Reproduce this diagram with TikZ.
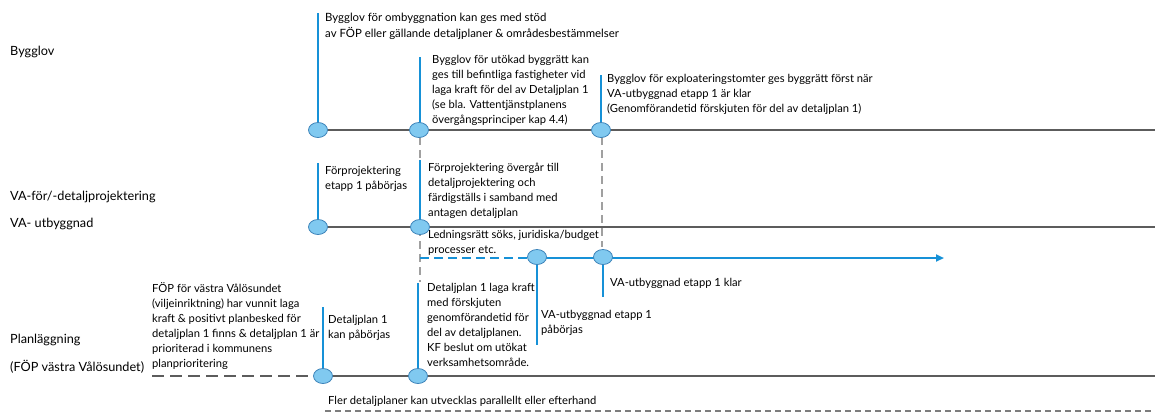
\documentclass[tikz,border=0pt]{standalone}
\usepackage{fontspec}
\setmainfont{Lato}
\usetikzlibrary{arrows.meta}
\definecolor{blueline}{RGB}{22,145,215}
\definecolor{circfill}{RGB}{128,201,240}
\definecolor{circdraw}{RGB}{62,132,186}
\definecolor{tlgray}{RGB}{92,92,92}
\definecolor{dgray}{RGB}{160,160,160}
\tikzset{
  ms/.style={ellipse,draw=circdraw,fill=circfill,line width=0.8pt,minimum width=19pt,minimum height=15pt,inner sep=0pt},
  tl/.style={draw=tlgray,line width=2.6pt},
  vblue/.style={draw=blueline,line width=1.8pt},
  vdash/.style={draw=dgray,line width=1.8pt,dash pattern=on 8pt off 5pt},
  lbl/.style={font=\fontsize{11.2}{15}\selectfont,align=left,inner sep=0pt,anchor=north west,text=black},
  biglbl/.style={lbl,font=\fontsize{11.4}{16}\selectfont},
  rowlbl/.style={font=\fontsize{12.7}{14}\selectfont,inner sep=0pt,anchor=west,text=black}
}
\usetikzlibrary{shapes.geometric}
\begin{document}
\begin{tikzpicture}[x=1pt,y=-1pt]
\useasboundingbox (0,0) rectangle (1155,416);
% row labels
\node[rowlbl] (lB) at (10,52) {Bygglov};
\node[rowlbl] (lVA1) at (10,197) {VA-för/-detaljprojektering};
\node[rowlbl] (lVA2) at (10,224) {VA- utbyggnad};
\node[rowlbl] (lP1) at (10,340) {Planläggning};
\node[rowlbl] (lP2) at (10,367) {(FÖP västra Vålösundet)};
% coordinates
\coordinate (bEnd) at (1155,130);
\coordinate (vEnd) at (1155,227);
\coordinate (pEnd) at (1155,376);
\coordinate (pStart) at (152,376);
\coordinate (fStart) at (325,411);
\coordinate (fEnd) at (1155,411);
\coordinate (aEnd) at (944,258);
\coordinate (t1) at (318,13);
\coordinate (t2) at (420,57);
\coordinate (t3) at (601,75);
\coordinate (t4) at (318,163);
\coordinate (t5) at (420,160);
\coordinate (t6) at (537,345);
\coordinate (t7) at (603,297);
\coordinate (t8) at (323,307);
\coordinate (t9) at (418,283);
\coordinate (d1) at (420,282);
\coordinate (d2) at (602,247);
% dashed grey verticals
\draw[vdash] (420,137) -- (d1);
\draw[vdash] (602,137) -- (d2);
% timelines
\coordinate (b1c) at (318,130);
\draw[tl] (b1c) -- (bEnd);
\draw[tl] (318,227) -- (vEnd);
\draw[tl] (323,376) -- (pEnd);
\draw[draw=tlgray,line width=1.8pt,dash pattern=on 12pt off 6pt] (pStart) -- (312,376);
\draw[draw=tlgray!80,line width=1.3pt,dash pattern=on 6pt off 4pt] (fStart) -- (fEnd);
% blue process line
\draw[draw=blueline,line width=1.6pt,dash pattern=on 9pt off 5pt] (420,258) -- (528,258);
\draw[draw=blueline,line width=2.2pt,-{Triangle[length=8pt,width=7pt]}] (537,258) -- (aEnd);
% blue verticals
\draw[vblue] (t1) -- (318,123);
\draw[vblue] (t2) -- (420,123);
\draw[vblue] (t3) -- (601,123);
\draw[vblue] (t4) -- (318,220);
\draw[vblue] (t5) -- (420,220);
\draw[vblue] (537,265) -- (t6);
\draw[vblue] (603,265) -- (t7);
\draw[vblue] (t8) -- (323,369);
\draw[vblue] (t9) -- (418,369);
% milestones
\node[ms] (b1) at (318,130) {};
\node[ms] (b2) at (419,130) {};
\node[ms] (b3) at (601,130) {};
\node[ms] (v1) at (318,227) {};
\node[ms] (v2) at (420,227) {};
\node[ms] (u1) at (537,257) {};
\node[ms] (u2) at (603,257) {};
\node[ms] (p1) at (323,376) {};
\node[ms] (p2) at (418,376) {};
% texts
\node[biglbl] (T1) at (325,13) {Bygglov för ombyggnation kan ges med stöd\\av FÖP eller gällande detaljplaner \& områdesbestämmelser};
\node[lbl] (T2) at (432,55) {Bygglov för utökad byggrätt kan\\ges till befintliga fastigheter vid\\laga kraft för del av Detaljplan 1\\(se bla. Vattentjänstplanens\\övergångsprinciper kap 4.4)};
\node[lbl] (T3) at (607,74) {Bygglov för exploateringstomter ges byggrätt först när\\VA-utbyggnad etapp 1 är klar\\(Genomförandetid förskjuten för del av detaljplan 1)};
\node[lbl] (T4) at (325,166) {Förprojektering\\etapp 1 påbörjas};
\node[lbl] (T5) at (428,163) {Förprojektering övergår till\\detaljprojektering och\\färdigställs i samband med\\antagen detaljplan};
\node[lbl] (T6) at (428,230) {Ledningsrätt söks, juridiska/budget\\processer etc.};
\node[lbl] (T7) at (610,278) {VA-utbyggnad etapp 1 klar};
\node[lbl] (T8) at (541,310) {VA-utbyggnad etapp 1\\påbörjas};
\node[lbl] (T9) at (152,282) {FÖP för västra Vålösundet\\(viljeinriktning) har vunnit laga\\kraft \& positivt planbesked för\\detaljplan 1 finns \& detaljplan 1 är\\prioriterad i kommunens\\planprioritering};
\node[lbl] (T10) at (328,315) {Detaljplan 1\\kan påbörjas};
\node[lbl] (T11) at (427,283) {Detaljplan 1 laga kraft\\med förskjuten\\genomförandetid för\\del av detaljplanen.\\KF beslut om utökat\\verksamhetsområde.};
\node[lbl] (T12) at (328,396) {Fler detaljplaner kan utvecklas parallellt eller efterhand};
\end{tikzpicture}
\end{document}
